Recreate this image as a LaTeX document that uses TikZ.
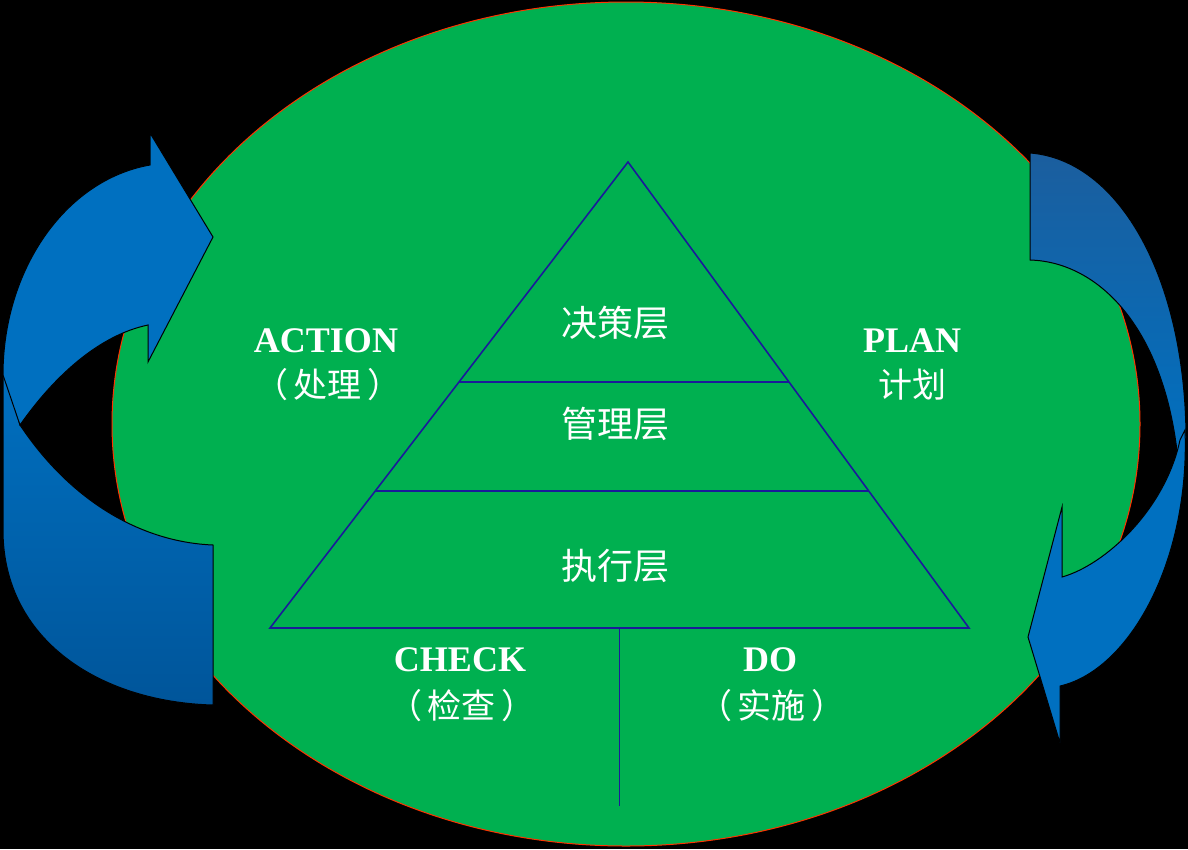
\documentclass[tikz,border=0pt]{standalone}
\usepackage{fontspec}
\setmainfont{Liberation Serif}
\newfontfamily\cjk{Noto Sans CJK SC}
\usetikzlibrary{calc,positioning}
\definecolor{leafgreen}{HTML}{00B050}
\definecolor{rimred}{HTML}{FF3300}
\definecolor{pyrblue}{HTML}{1A1A9A}
\definecolor{arrowblue}{HTML}{0070C0}
\definecolor{bandtop}{HTML}{1B5E9E}
\definecolor{bandbot}{HTML}{00559A}
\newcommand{\po}{\hspace{4pt}（\hspace{6pt}}
\newcommand{\pc}{\hspace{6pt}）\hspace{4pt}}

\begin{document}
\begin{tikzpicture}[x=1pt,y=-1pt,
    pdca/.style={font=\fontsize{36}{40}\selectfont\bfseries,text=white,inner sep=0pt},
    cn/.style={font=\fontsize{34}{38}\selectfont\cjk,text=white,inner sep=0pt},
    layer/.style={font=\fontsize{36}{40}\selectfont\cjk,text=white,inner sep=0pt},
    edge/.style={draw=pyrblue,line width=1.6pt},
    band/.style={draw=black,line width=1pt}]
  \fill[black] (0,0) rectangle (1188,849);
  \useasboundingbox (0,0) rectangle (1188,849);
  \draw[fill=leafgreen,draw=rimred,line width=1pt] (626,424) ellipse [x radius=514pt,y radius=422pt];
  % left loop
  \draw[band,top color=arrowblue,bottom color=bandbot] (213,545) -- (213,705) .. controls (100,702) and (3,640) .. (3,530) -- (3,365) -- (20,425) .. controls (70,500) and (140,542) .. (213,545) -- cycle;
  \draw[band,fill=arrowblue] (20,425) .. controls (55,375) and (100,335) .. (148,325) -- (148,362) -- (213,237) -- (150,133) -- (150,165) .. controls (65,180) and (3,270) .. (3,375) -- cycle;
  % right loop
  \draw[band,top color=bandtop,bottom color=arrowblue] (1030,153) -- (1030,260) .. controls (1100,262) and (1165,330) .. (1178,460) -- (1186,440) .. controls (1186,280) and (1120,160) .. (1030,153) -- cycle;
  \draw[band,fill=arrowblue] (1185,430) .. controls (1190,560) and (1130,670) .. (1060,686) -- (1060,743) -- (1028,637) -- (1062,507) -- (1062,577) .. controls (1105,565) and (1165,510) .. (1180,440) -- cycle;
  % pyramid
  \coordinate (apex) at (628,162); \coordinate (bl) at (270,628); \coordinate (br) at (969,628);
  \draw[edge] (apex) -- (bl) -- (br) -- cycle;
  \draw[edge] ($(apex)!.472!(bl)$) -- ($(apex)!.472!(br)$);
  \draw[edge] ($(apex)!.706!(bl)$) -- ($(apex)!.706!(br)$);
  \draw[edge] ($(bl)!.5!(br)$) -- ++(0,178);
  \node[layer] (top) at (615,323) {决策层}; \node[layer] (mid) at (615,424) {管理层}; \node[layer] (low) at (615,566) {执行层};
  \node[pdca] (act) at (326,341) {ACTION}; \node[cn] (actcn) at (326,385) {\po 处理\pc};
  \node[pdca] (plan) at (912,341) {PLAN}; \node[cn] (plancn) at (912,385) {计划};
  \node[pdca] (chk) at (460,660) {CHECK}; \node[cn] (chkcn) at (460,706) {\po 检查\pc};
  \node[pdca] (do) at (770,660) {DO}; \node[cn] (docn) at (770,706) {\po 实施\pc};
\end{tikzpicture}
\end{document}
